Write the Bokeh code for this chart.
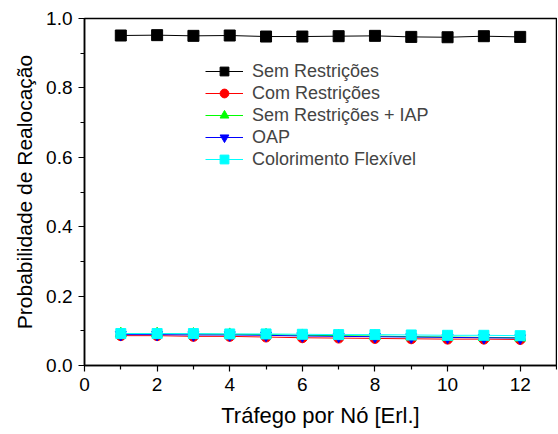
from bokeh.plotting import figure
from bokeh.models import Range1d, Legend, LegendItem, FixedTicker, NumeralTickFormatter
from bokeh.embed import file_html
from bokeh.resources import INLINE

trafego = [1, 2, 3, 4, 5, 6, 7, 8, 9, 10, 11, 12]
sem_restricoes = [0.951, 0.952, 0.950, 0.951, 0.948, 0.948, 0.949, 0.950, 0.947, 0.946, 0.949, 0.947]
com_restricoes = [0.086, 0.086, 0.084, 0.084, 0.082, 0.080, 0.079, 0.078, 0.077, 0.076, 0.076, 0.075]
sem_restricoes_iap = [0.092, 0.092, 0.091, 0.090, 0.089, 0.087, 0.086, 0.085, 0.083, 0.082, 0.081, 0.080]
oap = [0.089, 0.089, 0.088, 0.088, 0.087, 0.085, 0.084, 0.083, 0.082, 0.081, 0.080, 0.079]
colorimento = [0.092, 0.092, 0.092, 0.091, 0.091, 0.090, 0.089, 0.089, 0.088, 0.087, 0.087, 0.086]

labels = ["Sem Restrições", "Com Restrições", "Sem Restrições + IAP", "OAP", "Colorimento Flexível"]
series = [sem_restricoes, com_restricoes, sem_restricoes_iap, oap, colorimento]
colors = ["#000000", "#FF0000", "#00FF00", "#0000FF", "#00FFFF"]
markers = ["square", "circle", "triangle", "inverted_triangle", "square"]
sizes = [11, 10, 11, 11, 10]

FONT = "Liberation Sans"

p = figure(width=557, height=430, output_backend="svg", toolbar_location=None,
           x_range=Range1d(0, 13), y_range=Range1d(0, 1.0),
           min_border_left=84, min_border_top=18, min_border_right=1, min_border_bottom=64)
p.grid.visible = False
p.outline_line_color = "black"
p.outline_line_width = 1.5
p.background_fill_color = "white"
p.border_fill_color = "white"

items = []
for lab, ys, c, m, s in zip(labels, series, colors, markers, sizes):
    r1 = p.line(trafego, ys, line_color=c, line_width=1)
    r2 = p.scatter(trafego, ys, marker=m, size=s, fill_color=c, line_color=c)
    items.append(LegendItem(label=lab, renderers=[r1, r2]))

leg = Legend(items=items, location=(121, 195), padding=0, spacing=0,
             label_height=22, glyph_height=22, glyph_width=38, label_standoff=9,
             border_line_color=None, background_fill_alpha=0,
             label_text_font=FONT, label_text_font_size="18px")
p.add_layout(leg)

for ax in (p.xaxis[0], p.yaxis[0]):
    ax.axis_line_width = 1.5
    ax.axis_line_color = "black"
    ax.major_tick_line_color = "black"
    ax.minor_tick_line_color = "black"
    ax.major_tick_line_width = 1.2
    ax.minor_tick_line_width = 1.2
    ax.major_tick_out = 6
    ax.major_tick_in = 0
    ax.minor_tick_out = 4
    ax.minor_tick_in = 0
    ax.major_label_standoff = 6
    ax.major_label_text_font = FONT
    ax.major_label_text_font_size = "19px"
    ax.major_label_text_color = "black"
    ax.axis_label_text_font = FONT
    ax.axis_label_text_font_style = "normal"
    ax.axis_label_text_color = "black"

p.xaxis.axis_label_text_font_size = "22px"
p.yaxis.axis_label_text_font_size = "21px"
p.xaxis.ticker = FixedTicker(ticks=[0, 2, 4, 6, 8, 10, 12], minor_ticks=[1, 3, 5, 7, 9, 11, 13])
p.yaxis.ticker = FixedTicker(ticks=[0.0, 0.2, 0.4, 0.6, 0.8, 1.0], minor_ticks=[0.1, 0.3, 0.5, 0.7, 0.9])
p.yaxis.formatter = NumeralTickFormatter(format="0.0")
p.xaxis.axis_label = "Tráfego por Nó [Erl.]"
p.yaxis.axis_label = "Probabilidade de Realocação"
p.xaxis.axis_label_standoff = 9
p.yaxis.axis_label_standoff = 7

open("out.html", "w").write(file_html(p, INLINE))
